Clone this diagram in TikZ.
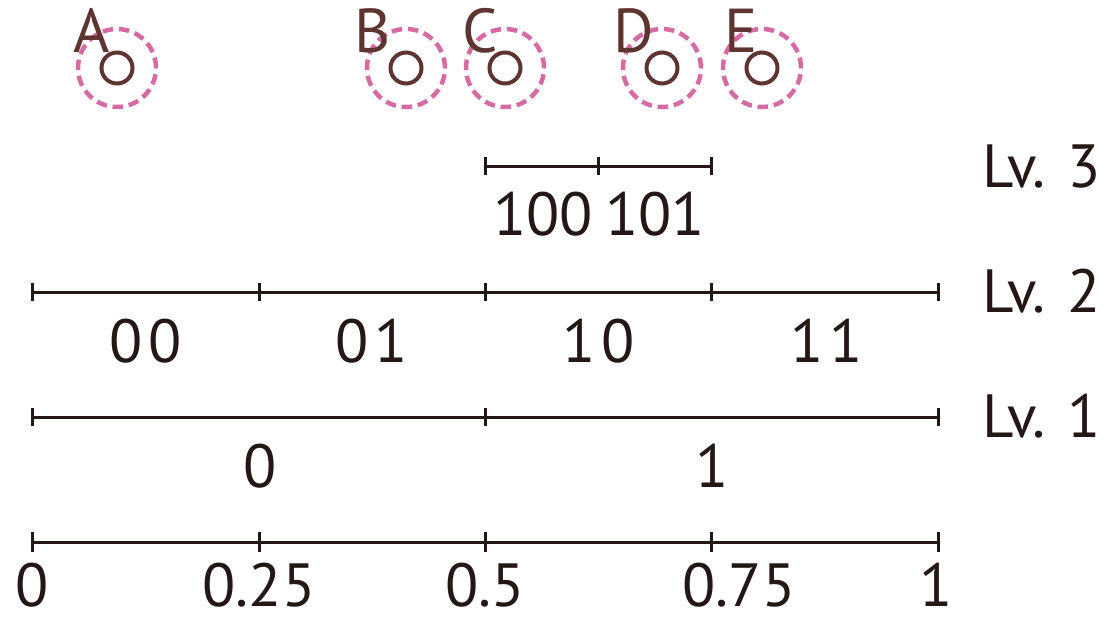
\documentclass[tikz,border=0pt]{standalone}
\usepackage{fontspec}
\setmainfont{PT Sans}
\definecolor{inkc}{HTML}{231815}
\definecolor{brownc}{HTML}{5E3431}
\definecolor{pinkc}{HTML}{D66BA3}
\tikzset{
  axisline/.style={draw=inkc, line width=3pt},
  tickmark/.style={draw=inkc, line width=3pt},
  lbl/.style={inner sep=0pt, text depth=0pt, anchor=base, text=inkc, font=\fontsize{61}{70}\selectfont},
  lvlbl/.style={inner sep=0pt, text depth=0pt, anchor=base west, text=inkc, font=\fontsize{61}{70}\selectfont},
  ptname/.style={inner sep=0pt, text depth=0pt, anchor=base, text=brownc, font=\fontsize{62}{70}\selectfont},
  ptdot/.style={circle, draw=brownc, line width=4pt, minimum size=31pt, inner sep=0pt},
  ptring/.style={circle, draw=pinkc, line width=4.5pt, minimum size=78pt, inner sep=0pt, dash pattern=on 10.5pt off 5.8pt},
}
\begin{document}
\begin{tikzpicture}[x=1pt,y=-1pt]
\useasboundingbox (0,0) rectangle (1115,616);

% points
\foreach \n/\px/\lx in {A/117/92, B/406/373, C/505/480, D/662/634, E/762/741}{
  \node[ptring] (r\n) at (\px,68) {};
  \node[ptdot] (d\n) at (\px,68) {};
  \node[ptname] (l\n) at (\lx,52) {\n};
}

% axis coordinates
\foreach \lv/\yy in {0/542, 1/417, 2/292}{
  \foreach \i/\xx in {0/32, 1/259, 2/485, 3/711, 4/938}{
    \coordinate (p\lv-\i) at (\xx,\yy);
  }
}
\coordinate (p3-0) at (485,166);
\coordinate (p3-1) at (598,166);
\coordinate (p3-2) at (711,166);

% bottom scale
\draw[axisline] (p0-0) -- (p0-4);
\foreach \i in {0,...,4}{ \draw[tickmark] ([yshift=-10pt]p0-\i) -- ([yshift=10pt]p0-\i); }
% level 1
\draw[axisline] (p1-0) -- (p1-4);
\foreach \i in {0,2,4}{ \draw[tickmark] ([yshift=-9pt]p1-\i) -- ([yshift=9pt]p1-\i); }
% level 2
\draw[axisline] (p2-0) -- (p2-4);
\foreach \i in {0,...,4}{ \draw[tickmark] ([yshift=-9pt]p2-\i) -- ([yshift=9pt]p2-\i); }
% level 3
\draw[axisline] (p3-0) -- (p3-2);
\foreach \i in {0,1,2}{ \draw[tickmark] ([yshift=-9pt]p3-\i) -- ([yshift=9pt]p3-\i); }

% scale labels
\node[lbl] (s0) at (32,606) {0};
\node[lbl] (s1) at (259,606) {0.25};
\node[lbl] (s2) at (485,606) {0.5};
\node[lbl] (s3) at (739,606) {0.75};
\node[lbl] (s4) at (936,606) {1};

% level 1 labels
\node[lbl] (a0) at (260,487) {0};
\node[lbl] (a1) at (712,487) {1};
% level 2 labels
\node[lbl] (b00) at (146,362) {0\hspace{6pt}0};
\node[lbl] (b01) at (372,362) {0\hspace{6pt}1};
\node[lbl] (b10) at (599,362) {1\hspace{6pt}0};
\node[lbl] (b11) at (827,362) {1\hspace{6pt}1};
% level 3 labels
\node[lbl] (c100) at (543,235) {100};
\node[lbl] (c101) at (655,235) {101};

% level names
\node[lvlbl] (lv3) at (982,187) {Lv. 3};
\node[lvlbl] (lv2) at (982,312) {Lv. 2};
\node[lvlbl] (lv1) at (982,437) {Lv. 1};
\end{tikzpicture}
\end{document}
